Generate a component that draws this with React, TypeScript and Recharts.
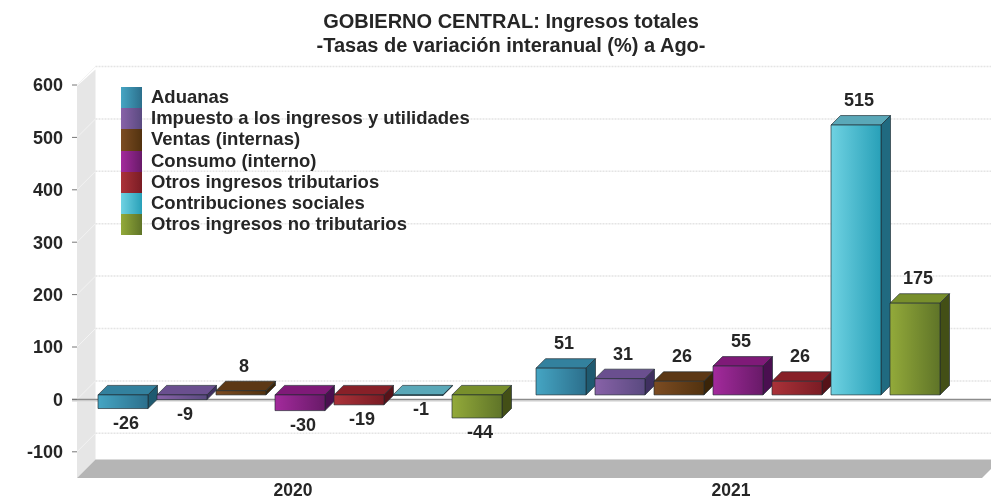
import React from 'react';
import {
  BarChart,
  Bar,
  XAxis,
  YAxis,
  CartesianGrid,
  Legend,
  LabelList,
} from 'recharts';

const years = ['2020', '2021'];
const seriesNames = [
  'Aduanas',
  'Impuesto a los ingresos y utilidades',
  'Ventas (internas)',
  'Consumo (interno)',
  'Otros ingresos tributarios',
  'Contribuciones sociales',
  'Otros ingresos no tributarios',
];
const aduanas = [-26, 51];
const impuesto = [-9, 31];
const ventas = [8, 26];
const consumo = [-30, 55];
const otrosTributarios = [-19, 26];
const contribuciones = [-1, 515];
const otrosNoTributarios = [-44, 175];
const seriesValues = [aduanas, impuesto, ventas, consumo, otrosTributarios, contribuciones, otrosNoTributarios];
const yTicks = [-100, 0, 100, 200, 300, 400, 500, 600];

// front left, front right, top face, side face
const barColors = [
  ['#45a5c3', '#2c6f8c', '#33819e', '#1f5a70'],
  ['#8862a8', '#5a4a80', '#6a4f8f', '#3f3060'],
  ['#7c4c22', '#52320f', '#5c3815', '#3a2408'],
  ['#a32a9c', '#681a68', '#7f1a78', '#4a0f50'],
  ['#ab3239', '#7a1c24', '#882028', '#561218'],
  ['#6fd2e2', '#28a0b8', '#5aa8b8', '#206a80'],
  ['#93aa3a', '#5f7428', '#788f2c', '#434f16'],
];

const chartData = years.map((year, i) => {
  const row: Record<string, string | number> = { year };
  seriesNames.forEach((name, s) => {
    row[name] = seriesValues[s][i];
  });
  return row;
});

const FONT = '"Liberation Sans", Arial, sans-serif';
const TEXT = '#262626';
const WALL = 18.5; // depth of the wall and floor
const DEPTH = 9.5; // depth of each bar
const SHIFT_X = 3;
const SHIFT_Y = -4.5;

// Wall, floor, back grid lines and the zero line, all behind the bars
const backPlane = (props: any) => {
  const { x1, y1, index, x, y, width, height } = props;
  const left = x ?? x1;
  const bottom = y + height;
  const right = left + width;
  return (
    <g key={`plane-${index}`}>
      {index === 0 && (
        <g>
          <polygon
            points={`${left},${y + 1} ${left + WALL},${y - WALL + 3} ${left + WALL},${bottom - WALL} ${left},${bottom}`}
            fill="#e6e6e6"
          />
          <polygon
            points={`${left},${bottom} ${left + WALL},${bottom - WALL} ${right + WALL},${bottom - WALL} ${right},${bottom}`}
            fill="#b5b5b5"
          />
        </g>
      )}
      <line x1={x1} y1={y1} x2={x1 + WALL} y2={y1 - WALL} stroke="#f3f3f3" strokeWidth={1} />
      <line
        x1={x1 + WALL}
        y1={y1 - WALL}
        x2={991}
        y2={y1 - WALL}
        stroke="#e4e4e4"
        strokeWidth={1.5}
        strokeDasharray="2 1"
      />
      {Math.abs(y1 - (y + (height * 600) / 750)) < 0.5 && (
        <g>
          <line x1={72} y1={y1 + 1.5} x2={991} y2={y1 + 1.5} stroke="#dcdcdc" strokeWidth={1.5} />
          <line x1={72} y1={y1} x2={991} y2={y1} stroke="#8c8c8c" strokeWidth={1.5} />
        </g>
      )}
    </g>
  );
};

const makeBox = (s: number) => (props: any) => {
  const { x, y, width, height } = props;
  const [, , topColor, sideColor] = barColors[s];
  const left = x + SHIFT_X;
  const right = left + width;
  const top = Math.min(y, y + height) + SHIFT_Y;
  const bottom = Math.max(y, y + height) + SHIFT_Y;
  return (
    <g stroke="#1f2a30" strokeOpacity={0.65} strokeWidth={1} strokeLinejoin="round">
      <polygon
        points={`${left},${top} ${left + DEPTH},${top - DEPTH} ${right + DEPTH},${top - DEPTH} ${right},${top}`}
        fill={topColor}
      />
      <polygon
        points={`${right},${top} ${right + DEPTH},${top - DEPTH} ${right + DEPTH},${bottom - DEPTH} ${right},${bottom}`}
        fill={sideColor}
      />
      <rect x={left} y={top} width={width} height={bottom - top} fill={`url(#front-${s})`} />
    </g>
  );
};

const renderValue = (props: any) => {
  const { x, y, width, height, value } = props;
  const cx = x + width / 2 + SHIFT_X + 3;
  const top = Math.min(y, y + height) + SHIFT_Y;
  const bottom = Math.max(y, y + height) + SHIFT_Y;
  const ty = value < 0 ? bottom + 14 : top - 25;
  return (
    <text
      x={cx}
      y={ty}
      textAnchor="middle"
      dominantBaseline="central"
      fontFamily={FONT}
      fontWeight="bold"
      fontSize={18}
      fill={TEXT}
    >
      {value}
    </text>
  );
};

const renderLegend = () => (
  <div style={{ fontFamily: FONT, fontWeight: 'bold', fontSize: 18.5, color: TEXT }}>
    {seriesNames.map((name, s) => (
      <div key={name} style={{ display: 'flex', alignItems: 'center', height: 21.2 }}>
        <span
          style={{
            width: 21,
            height: 21.2,
            marginRight: 9,
            background: `linear-gradient(90deg, ${barColors[s][0]}, ${barColors[s][1]})`,
          }}
        />
        <span style={{ lineHeight: '21px', whiteSpace: 'nowrap', position: 'relative', top: -1 }}>{name}</span>
      </div>
    ))}
  </div>
);

export default function App() {
  return (
    <div
      style={{
        position: 'absolute',
        left: 0,
        top: 0,
        width: 991,
        height: 501,
        background: '#fff',
        filter: 'blur(0.6px)',
      }}
    >
      <div
        style={{
          position: 'absolute',
          left: 0,
          width: 1022,
          top: 9,
          textAlign: 'center',
          fontFamily: FONT,
          fontWeight: 'bold',
          fontSize: 20,
          lineHeight: '24px',
          color: TEXT,
        }}
      >
        GOBIERNO CENTRAL: Ingresos totales
        <br />
        -Tasas de variación interanual (%) a Ago-
      </div>
      <BarChart
        width={991}
        height={501}
        data={chartData}
        margin={{ top: 85, right: 9, bottom: 0, left: 0 }}
        barCategoryGap={18}
        barGap={9}
      >
        <defs>
          {barColors.map((c, s) => (
            <linearGradient key={s} id={`front-${s}`} x1="0" y1="0" x2="1" y2="0">
              <stop offset="0%" stopColor={c[0]} />
              <stop offset="100%" stopColor={c[1]} />
            </linearGradient>
          ))}
        </defs>
        <CartesianGrid vertical={false} horizontal={backPlane} horizontalValues={yTicks} />
        <XAxis
          dataKey="year"
          height={23}
          padding={{ left: 0, right: 29 }}
          axisLine={false}
          tickLine={false}
          tickSize={0}
          tickMargin={6}
          dx={-3}
          tick={{ fontFamily: FONT, fontWeight: 'bold', fontSize: 17.5, fill: TEXT }}
        />
        <YAxis
          width={77}
          domain={[-150, 600]}
          ticks={yTicks}
          interval={0}
          allowDataOverflow
          axisLine={false}
          tickSize={5}
          tickMargin={9}
          tickLine={{ stroke: '#777' }}
          tick={{ fontFamily: FONT, fontWeight: 'bold', fontSize: 18, fill: TEXT }}
        />
        <Legend
          content={renderLegend}
          layout="horizontal"
          align="center"
          verticalAlign="middle"
          wrapperStyle={{ position: 'absolute', left: 121, top: 87, width: 500, bottom: 'auto' }}
        />
        {seriesNames.map((name, s) => (
          <Bar key={name} dataKey={name} shape={makeBox(s)} isAnimationActive={false}>
            <LabelList dataKey={name} content={renderValue} />
          </Bar>
        ))}
      </BarChart>
    </div>
  );
}
